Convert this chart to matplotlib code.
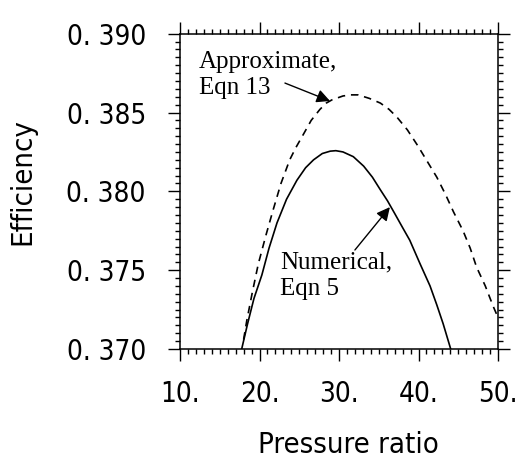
import matplotlib
matplotlib.use('Agg')
import matplotlib.pyplot as plt
from matplotlib.ticker import MultipleLocator

# numerical solution (Eqn 5)
num_x = [17.76, 18.5, 19.3, 20.3, 21.2, 22.2, 23.4, 24.7, 25.8, 26.8, 27.9,
         28.9, 29.6, 30.5, 31.8, 33.1, 34.2, 35.2, 36.1, 37.0, 38.0, 38.9,
         40.2, 41.45, 42.3, 43.1, 44.05]
num_y = [0.3700, 0.3716, 0.3732, 0.3747, 0.3764, 0.3780, 0.3795, 0.3807,
         0.3815, 0.3820, 0.3824, 0.38255, 0.38258, 0.3825, 0.3822, 0.3816,
         0.3809, 0.3801, 0.3794, 0.3786, 0.3777, 0.3769, 0.3754, 0.3740,
         0.3728, 0.3716, 0.3700]

# approximate solution (Eqn 13)
app_x = [18.0, 18.4, 19.1, 19.85, 20.8, 21.7, 22.7, 23.8, 24.6, 25.5, 26.5,
         27.6, 28.4, 29.1, 30.5, 31.5, 32.4, 33.8, 35.2, 36.3, 37.3, 38.6,
         39.9, 41.1, 42.3, 43.4, 44.4, 45.6, 46.5, 47.3, 48.4, 49.4, 50.0]
app_y = [0.3706, 0.3718, 0.3736, 0.3754, 0.3772, 0.3788, 0.3805, 0.3820,
         0.3828, 0.3836, 0.3845, 0.3852, 0.3856, 0.3858, 0.38605, 0.38612,
         0.38612, 0.3859, 0.3856, 0.3852, 0.3847, 0.3839, 0.3829, 0.3819,
         0.3809, 0.3798, 0.3787, 0.3775, 0.3764, 0.3752, 0.3740, 0.3727,
         0.3720]

x_ticks = [10, 20, 30, 40, 50]
x_labels = ['10.', '20.', '30.', '40.', '50.']
y_ticks = [0.370, 0.375, 0.380, 0.385, 0.390]
y_labels = ['0. 370', '0. 375', '0. 380', '0. 385', '0. 390']

serif = ['Liberation Serif', 'DejaVu Serif']
cond = dict(family='DejaVu Sans', stretch='condensed')

fig = plt.figure(figsize=(5.18, 4.58), dpi=100)
ax = fig.add_axes([0.3475, 0.238, 0.6139, 0.6884])

ax.plot(num_x, num_y, color='k', lw=1.2)
ax.plot(app_x, app_y, color='k', lw=1.2, dashes=(4.5, 3.5))

ax.set_xlim(10, 50)
ax.set_ylim(0.370, 0.390)

ax.set_xticks(x_ticks)
ax.set_xticklabels(x_labels, fontsize=20, **cond)
ax.set_yticks(y_ticks)
ax.set_yticklabels(y_labels, fontsize=20, va='center_baseline', **cond)
ax.xaxis.set_minor_locator(MultipleLocator(1))
ax.yaxis.set_minor_locator(MultipleLocator(0.0005))

ax.tick_params(which='both', direction='out', top=True, right=True, width=1.0)
ax.tick_params(which='major', length=8.6)
ax.tick_params(which='minor', length=3.6)
ax.tick_params(axis='x', which='major', pad=14)
ax.tick_params(axis='y', which='major', pad=16)
for s in ax.spines.values():
    s.set_linewidth(1.1)

ax.set_xlabel('Pressure ratio', fontsize=21, **cond)
ax.set_ylabel('Efficiency', fontsize=21, **cond)
ax.xaxis.set_label_coords(0.528, -0.26)
ax.yaxis.set_label_coords(-0.452, 0.53)

ax.text(12.4, 0.3889, 'Approximate,\nEqn 13', family=serif, fontsize=18,
        ha='left', va='top', linespacing=1.25)
ax.text(22.6, 0.3762, 'Numerical,\nEqn 5', family=serif, fontsize=18,
        ha='left', va='top', linespacing=1.25)

arrow = dict(arrowstyle='-|>', color='k', lw=1.0, mutation_scale=20,
             shrinkA=0, shrinkB=0)
ax.annotate('', xy=(28.87, 0.38573), xytext=(23.2, 0.38687), arrowprops=arrow)
ax.annotate('', xy=(36.4, 0.3790), xytext=(32.0, 0.37628), arrowprops=arrow)

fig.savefig('out.png', dpi=100)
